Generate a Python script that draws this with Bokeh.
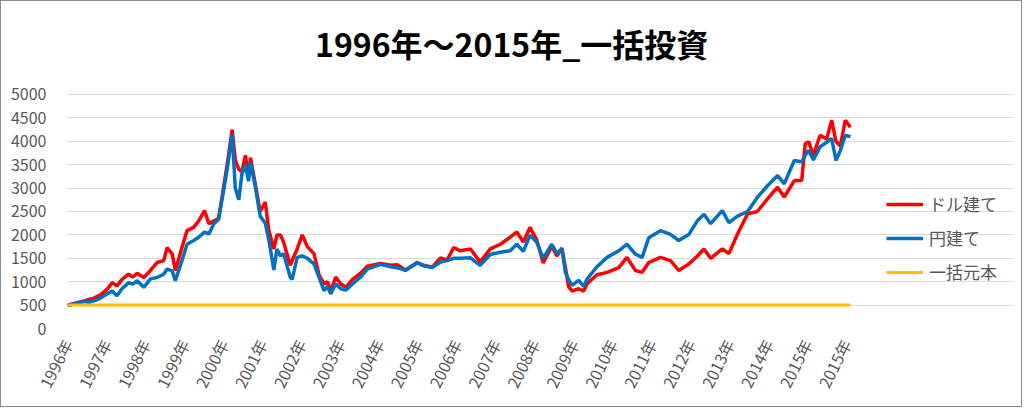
from bokeh.plotting import figure
from bokeh.models import Label, Legend, LegendItem, FixedTicker, ColumnDataSource
from bokeh.embed import file_html
from bokeh.resources import INLINE

title_text = "1996年～2015年_一括投資"
tick_labels = ["1996年", "1997年", "1998年", "1999年", "2000年", "2001年", "2002年",
               "2003年", "2004年", "2005年", "2006年", "2007年", "2008年", "2009年",
               "2010年", "2011年", "2012年", "2013年", "2014年", "2015年", "2015年"]
series_names = ["ドル建て", "円建て", "一括元本"]
y_ticks = [0, 500, 1000, 1500, 2000, 2500, 3000, 3500, 4000, 4500, 5000]

# position along the time axis, in label steps (0 = 1996年 label)
t = [0.00, 0.20, 0.42, 0.55, 0.68, 0.85, 1.02, 1.15, 1.27, 1.40, 1.57, 1.68, 1.79, 1.96,
     2.13, 2.30, 2.47, 2.56, 2.69, 2.77, 2.94, 3.07, 3.24, 3.37, 3.52, 3.63, 3.76, 3.88,
     4.01, 4.10, 4.23, 4.31, 4.40, 4.48, 4.57, 4.65, 4.70, 4.82, 4.95, 5.08, 5.17, 5.30,
     5.38, 5.47, 5.55, 5.72, 5.77, 5.90, 6.03, 6.16, 6.33, 6.46, 6.59, 6.68, 6.76, 6.89,
     7.02, 7.15, 7.32, 7.53, 7.70, 8.04, 8.30, 8.47, 8.68, 8.98, 9.15, 9.37, 9.58, 9.75,
     9.92, 10.09, 10.35, 10.60, 10.86, 11.12, 11.37, 11.54, 11.71, 11.88, 12.05, 12.22,
     12.44, 12.57, 12.70, 12.79, 12.87, 12.96, 13.13, 13.26, 13.34, 13.60, 13.86, 14.16,
     14.37, 14.59, 14.76, 14.93, 15.23, 15.49, 15.70, 15.96, 16.18, 16.35, 16.52, 16.82,
     16.99, 17.21, 17.47, 17.72, 17.98, 18.24, 18.41, 18.67, 18.86, 18.95, 19.04, 19.16,
     19.33, 19.50, 19.63, 19.74, 19.85, 19.98, 20.11]

usd = [500, 540, 590, 620, 650, 720, 840, 980, 910, 1050, 1160, 1100, 1180, 1090,
       1240, 1410, 1450, 1730, 1590, 1240, 1730, 2090, 2160, 2300, 2520, 2240, 2300, 2350,
       3020, 3500, 4250, 3600, 3400, 3350, 3700, 3200, 3650, 3100, 2500, 2700, 2100, 1700,
       2000, 2000, 1850, 1350, 1450, 1700, 2000, 1750, 1600, 1150, 950, 1000, 800, 1100,
       950, 880, 1050, 1180, 1330, 1390, 1350, 1360, 1250, 1410, 1350, 1310, 1510, 1460,
       1730, 1660, 1700, 1420, 1700, 1800, 1950, 2060, 1850, 2160, 1900, 1400,
       1760, 1550, 1720, 1300, 900, 800, 850, 800, 950, 1150, 1200, 1300,
       1520, 1240, 1200, 1410, 1520, 1450, 1240, 1380, 1550, 1700, 1500, 1700,
       1600, 2020, 2450, 2500, 2770, 3020, 2810, 3160, 3160, 3950, 3990, 3700,
       4130, 4050, 4450, 4000, 3900, 4450, 4300]

jpy = [490, 530, 575, 560, 590, 650, 740, 800, 700, 850, 980, 950, 1020, 880,
       1060, 1090, 1160, 1270, 1230, 1020, 1450, 1800, 1880, 1950, 2060, 2020, 2240, 2330,
       2950, 3400, 4150, 3000, 2750, 3300, 3500, 3150, 3550, 3050, 2400, 2250, 1900, 1250,
       1700, 1550, 1600, 1100, 1050, 1520, 1550, 1500, 1380, 1100, 810, 900, 740, 950,
       850, 820, 950, 1100, 1270, 1370, 1320, 1300, 1240, 1400, 1340, 1300, 1420, 1450,
       1500, 1500, 1510, 1350, 1580, 1630, 1660, 1800, 1650, 1990, 1850, 1500,
       1800, 1600, 1700, 1200, 1050, 920, 1030, 900, 1050, 1320, 1520, 1660,
       1800, 1590, 1520, 1940, 2090, 2010, 1880, 2010, 2300, 2440, 2240, 2520,
       2260, 2400, 2500, 2800, 3050, 3270, 3090, 3590, 3560, 3700, 3810, 3600,
       3880, 3980, 4060, 3590, 3800, 4130, 4100]

principal_t = [0.0, 20.11]
principal = [500, 500]

FONT = "Noto Sans CJK JP"
GREY = "#595959"

src = ColumnDataSource(data=dict(t=t, usd=usd, jpy=jpy))
src_p = ColumnDataSource(data=dict(t=principal_t, v=principal))

# The frame spans the whole chart area (title and legend sit inside it);
# ticks and grid lines are limited to the 0-5000 / data span.
p = figure(width=1022, height=407, x_range=(0, 24.30), y_range=(0, 6987),
           output_backend="svg", toolbar_location=None,
           min_border_left=66, min_border_right=10, min_border_top=0, min_border_bottom=80)
p.outline_line_color = None
p.background_fill_color = "white"
p.border_fill_color = "white"
p.styles = {"border": "1px solid #8C8C8C"}

r_usd = p.line("t", "usd", source=src, line_color="#FF0000", line_width=3.5)
r_jpy = p.line("t", "jpy", source=src, line_color="#0070C0", line_width=3.5)
r_pr = p.line("t", "v", source=src_p, line_color="#FFC000", line_width=3)

p.xgrid.grid_line_color = None
p.ygrid.grid_line_color = "#D9D9D9"
p.ygrid.grid_line_width = 1
p.ygrid.bounds = (0, 20.11)

p.yaxis.ticker = FixedTicker(ticks=y_ticks)
p.xaxis.ticker = FixedTicker(ticks=list(range(len(tick_labels))))
p.xaxis.major_label_overrides = {i: lab for i, lab in enumerate(tick_labels)}
p.xaxis.major_label_orientation = 1.1

for ax in (p.xaxis[0], p.yaxis[0]):
    ax.axis_line_color = None
    ax.major_tick_line_color = None
    ax.minor_tick_line_color = None
    ax.major_label_text_font = FONT
    ax.major_label_text_color = GREY
p.yaxis.major_label_text_font_size = "16px"
p.xaxis.major_label_text_font_size = "16px"
p.yaxis.major_label_standoff = 15
p.xaxis.major_label_standoff = 6

legend = Legend(items=[LegendItem(label=series_names[0], renderers=[r_usd]),
                       LegendItem(label=series_names[1], renderers=[r_jpy]),
                       LegendItem(label=series_names[2], renderers=[r_pr])],
                location=(819, 44), orientation="vertical",
                label_text_font=FONT, label_text_font_size="17px", label_text_color=GREY,
                glyph_width=37, glyph_height=20, label_height=20, label_standoff=6,
                spacing=9, padding=10,
                border_line_color=None, background_fill_alpha=0, margin=0)
p.add_layout(legend)

title = Label(x=11.41, y=6100, text=title_text, text_align="center", text_baseline="middle",
              text_font=FONT, text_font_size="32px", text_font_style="bold",
              text_color="black")
p.add_layout(title)

open("out.html", "w").write(file_html(p, INLINE))
